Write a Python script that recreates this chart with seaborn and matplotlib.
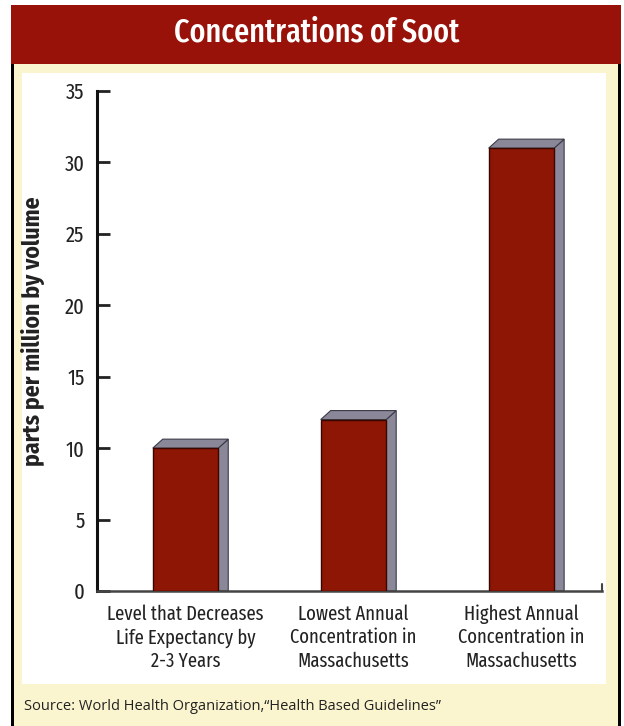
import matplotlib
matplotlib.use("Agg")
import matplotlib.pyplot as plt
from matplotlib.patches import Rectangle, Polygon
import seaborn as sns
import pandas as pd

# ---- data ----
categories = [
    "Level that Decreases\nLife Expectancy by\n2-3 Years",
    "Lowest Annual\nConcentration in\nMassachusetts",
    "Highest Annual\nConcentration in\nMassachusetts",
]
values = [10, 12, 31]
y_ticks = [0, 5, 10, 15, 20, 25, 30, 35]

title = "Concentrations of Soot"
y_label = "parts per million by volume"
source = "Source: World Health Organization,\u201cHealth Based Guidelines\u201d"

# ---- style ----
sns.set_theme(style="white")
COND = ["Fira Sans Extra Condensed", "DejaVu Sans"]
plt.rcParams["font.family"] = COND

W, H, DPI = 624, 726, 100
RED = "#98120a"
CREAM = "#fbf5cf"
BAR = "#8e1604"
SIDE = "#8a8798"
INK = "#222222"

fig = plt.figure(figsize=(W / DPI, H / DPI), dpi=DPI, facecolor="white")

def px_rect(x0, y0, x1, y1, **kw):
    """Rectangle given in pixel coords measured from the top-left corner."""
    fig.patches.append(Rectangle((x0 / W, 1 - y1 / H), (x1 - x0) / W, (y1 - y0) / H,
                                 transform=fig.transFigure, figure=fig, zorder=-5, **kw))

# frame: cream card with black sides, red banner, white plotting panel
px_rect(13, 64, 620, 726, facecolor=CREAM, edgecolor="none")
px_rect(11, 64, 14, 726, facecolor="black", edgecolor="none")
px_rect(618, 64, 621, 726, facecolor="black", edgecolor="none")
px_rect(11, 5, 621, 64, facecolor=RED, edgecolor="none")
px_rect(22, 73, 606, 684, facecolor="white", edgecolor="none")

fig.text(317 / W, 1 - 33 / H, title, color="white", fontsize=23.5, fontweight="medium",
         ha="center", va="center")
fig.text(24 / W, 1 - 706 / H, source, color=INK, fontsize=10.5,
         ha="left", va="center", family=["Open Sans", "DejaVu Sans"])

# ---- axes ----
ax = fig.add_axes([97 / W, (H - 591) / H, 505 / W, 500 / H])
ax.set_facecolor("none")

df = pd.DataFrame({"category": categories, "value": values})
sns.barplot(data=df, x="category", y="value", color=BAR, saturation=1,
            width=0.39, edgecolor="#3a0600", linewidth=1.0, ax=ax, zorder=3)

ax.set_xlim(-0.527, 2.48)
ax.set_ylim(0, 35)
ax.set_yticks(y_ticks)
ax.set_yticklabels([str(t) for t in y_ticks], fontsize=16, color=INK)
ax.tick_params(axis="y", which="major", left=True, direction="in", length=9, width=2,
               color=INK, pad=9)
ax.tick_params(axis="x", bottom=False, length=0, pad=10, labelsize=14.5, labelcolor=INK)
for lab in ax.get_xticklabels():
    lab.set_linespacing(1.22)

ax.set_xlabel("")
ax.set_ylabel(y_label, fontsize=17, fontweight="bold", color=INK,
              family=["Fira Sans Condensed", "DejaVu Sans"])
ax.yaxis.set_label_coords(-0.103, 0.52)

for s in ("top", "right"):
    ax.spines[s].set_visible(False)
ax.spines["left"].set_linewidth(2.2)
ax.spines["left"].set_color("#111111")
ax.spines["bottom"].set_linewidth(1.8)
ax.spines["bottom"].set_color("#444444")

# 3-D side and top faces, built from each bar's own extent
fig.canvas.draw()
to_disp = ax.transData
to_data = ax.transData.inverted()
dx_px, dy_px = 10, 9
for bar in list(ax.patches):
    x0, x1 = bar.get_x(), bar.get_x() + bar.get_width()
    top = bar.get_height()
    (ax0, atop), (ax1, abase) = to_disp.transform([(x0, top), (x1, 0)])
    corners = {
        "top_l": (ax0, atop), "top_r": (ax1, atop),
        "back_l": (ax0 + dx_px, atop + dy_px), "back_r": (ax1 + dx_px, atop + dy_px),
        "base_r": (ax1, abase), "base_back": (ax1 + dx_px, abase),
    }
    c = {k: to_data.transform(v) for k, v in corners.items()}
    side = Polygon([c["top_r"], c["back_r"], c["base_back"], c["base_r"]],
                   closed=True, facecolor=SIDE, edgecolor="#3c3c48", linewidth=0.8,
                   zorder=2, clip_on=False)
    lid = Polygon([c["top_l"], c["back_l"], c["back_r"], c["top_r"]],
                  closed=True, facecolor=SIDE, edgecolor="#3c3c48", linewidth=0.8,
                  zorder=2, clip_on=False)
    ax.add_patch(side)
    ax.add_patch(lid)

# small end mark at the right of the baseline
ax.plot([1, 1], [0, 0.015], transform=ax.transAxes, color="#444444",
        linewidth=1.5, clip_on=False)

fig.savefig("out.png", dpi=DPI, facecolor=fig.get_facecolor())
